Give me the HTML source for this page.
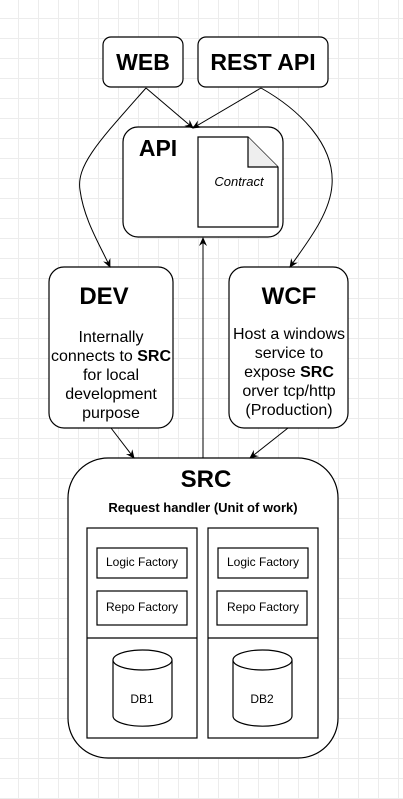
<!DOCTYPE html>
<html><head><style>
body{margin:0;width:403px;height:799px;overflow:hidden;background:#fff;
background-image:linear-gradient(#ececec 1px,transparent 1px),linear-gradient(90deg,#ececec 1px,transparent 1px);background-size:20px 20px;background-position:-2px -2px}
svg{position:absolute;left:0;top:0}
text{font-family:"Liberation Sans",Arial,sans-serif}
</style></head><body>
<svg width="403" height="799" viewBox="0 0 403 799">
<defs><marker id="a" markerWidth="10" markerHeight="10" refX="8" refY="5" orient="auto" markerUnits="userSpaceOnUse"><path d="M0,1 L9,5 L0,9 L3,5 z" fill="#000"/></marker></defs>
<g fill="#fff" stroke="#000" stroke-width="1.2">
<rect x="103" y="37" width="80" height="50" rx="8"/>
<rect x="198" y="37" width="130" height="50" rx="8"/>
<rect x="123" y="127" width="160" height="110" rx="15"/>
<path d="M198,137 H248 L278,167 V227 H198 Z"/>
<path d="M248,137 V167 H278" fill="#eee"/>
<rect x="49" y="267" width="124" height="161" rx="15"/>
<rect x="229" y="267" width="119" height="161" rx="15"/>
<rect x="68" y="458" width="270" height="300" rx="40"/>
<rect x="87" y="528" width="110" height="210"/>
<rect x="208" y="528" width="110" height="210"/>
<line x1="87" y1="638" x2="197" y2="638"/><line x1="208" y1="638" x2="318" y2="638"/>
<rect x="97" y="548" width="90" height="30"/><rect x="97" y="591" width="90" height="34"/>
<rect x="218" y="548" width="90" height="30"/><rect x="217" y="591" width="90" height="34"/>
<path d="M113,660 V716 A29,10 0 0 0 172,716 V660"/><ellipse cx="142.5" cy="660" rx="29.5" ry="10"/>
<path d="M233,660 V716 A29,10 0 0 0 292,716 V660"/><ellipse cx="262.5" cy="660" rx="29.5" ry="10"/>
</g>
<g fill="none" stroke="#000" stroke-width="1">
<path d="M146,88 L193,128" marker-end="url(#a)"/>
<path d="M261,88 L193,128" marker-end="url(#a)"/>
<path d="M146,88 C100,140 76,165 80,190 C84,220 100,245 110,267" marker-end="url(#a)"/>
<path d="M261,88 C300,110 335,145 332,185 C330,215 305,245 290,267" marker-end="url(#a)"/>
<path d="M203,458 V238" marker-end="url(#a)"/>
<path d="M111,428 L134,458" marker-end="url(#a)"/>
<path d="M288,428 L250,458" marker-end="url(#a)"/>
</g>
<g text-anchor="middle">
<text x="143" y="70" font-size="23" font-weight="bold">WEB</text>
<text x="263" y="70" font-size="23" font-weight="bold">REST API</text>
<text x="158" y="156" font-size="23" font-weight="bold">API</text>
<text x="239" y="186" font-size="13" font-style="italic">Contract</text>
<text x="104" y="304" font-size="24" font-weight="bold">DEV</text>
<text x="289" y="304" font-size="24" font-weight="bold">WCF</text>
<g font-size="16">
<text x="111" y="342">Internally</text>
<text x="111" y="361">connects to <tspan font-weight="bold">SRC</tspan></text>
<text x="111" y="380">for local</text>
<text x="111" y="399">development</text>
<text x="111" y="418">purpose</text>
<text x="289" y="339">Host a windows</text>
<text x="289" y="358">service to</text>
<text x="289" y="377">expose <tspan font-weight="bold">SRC</tspan></text>
<text x="289" y="396">orver tcp/http</text>
<text x="289" y="415">(Production)</text>
</g>
<text x="206" y="487" font-size="24" font-weight="bold">SRC</text>
<text x="203" y="512" font-size="13" font-weight="bold">Request handler (Unit of work)</text>
<g font-size="12">
<text x="142" y="566">Logic Factory</text><text x="142" y="611">Repo Factory</text>
<text x="263" y="566">Logic Factory</text><text x="263" y="611">Repo Factory</text>
<text x="142" y="703">DB1</text><text x="262" y="703">DB2</text>
</g></g>
</svg>
</body></html>
